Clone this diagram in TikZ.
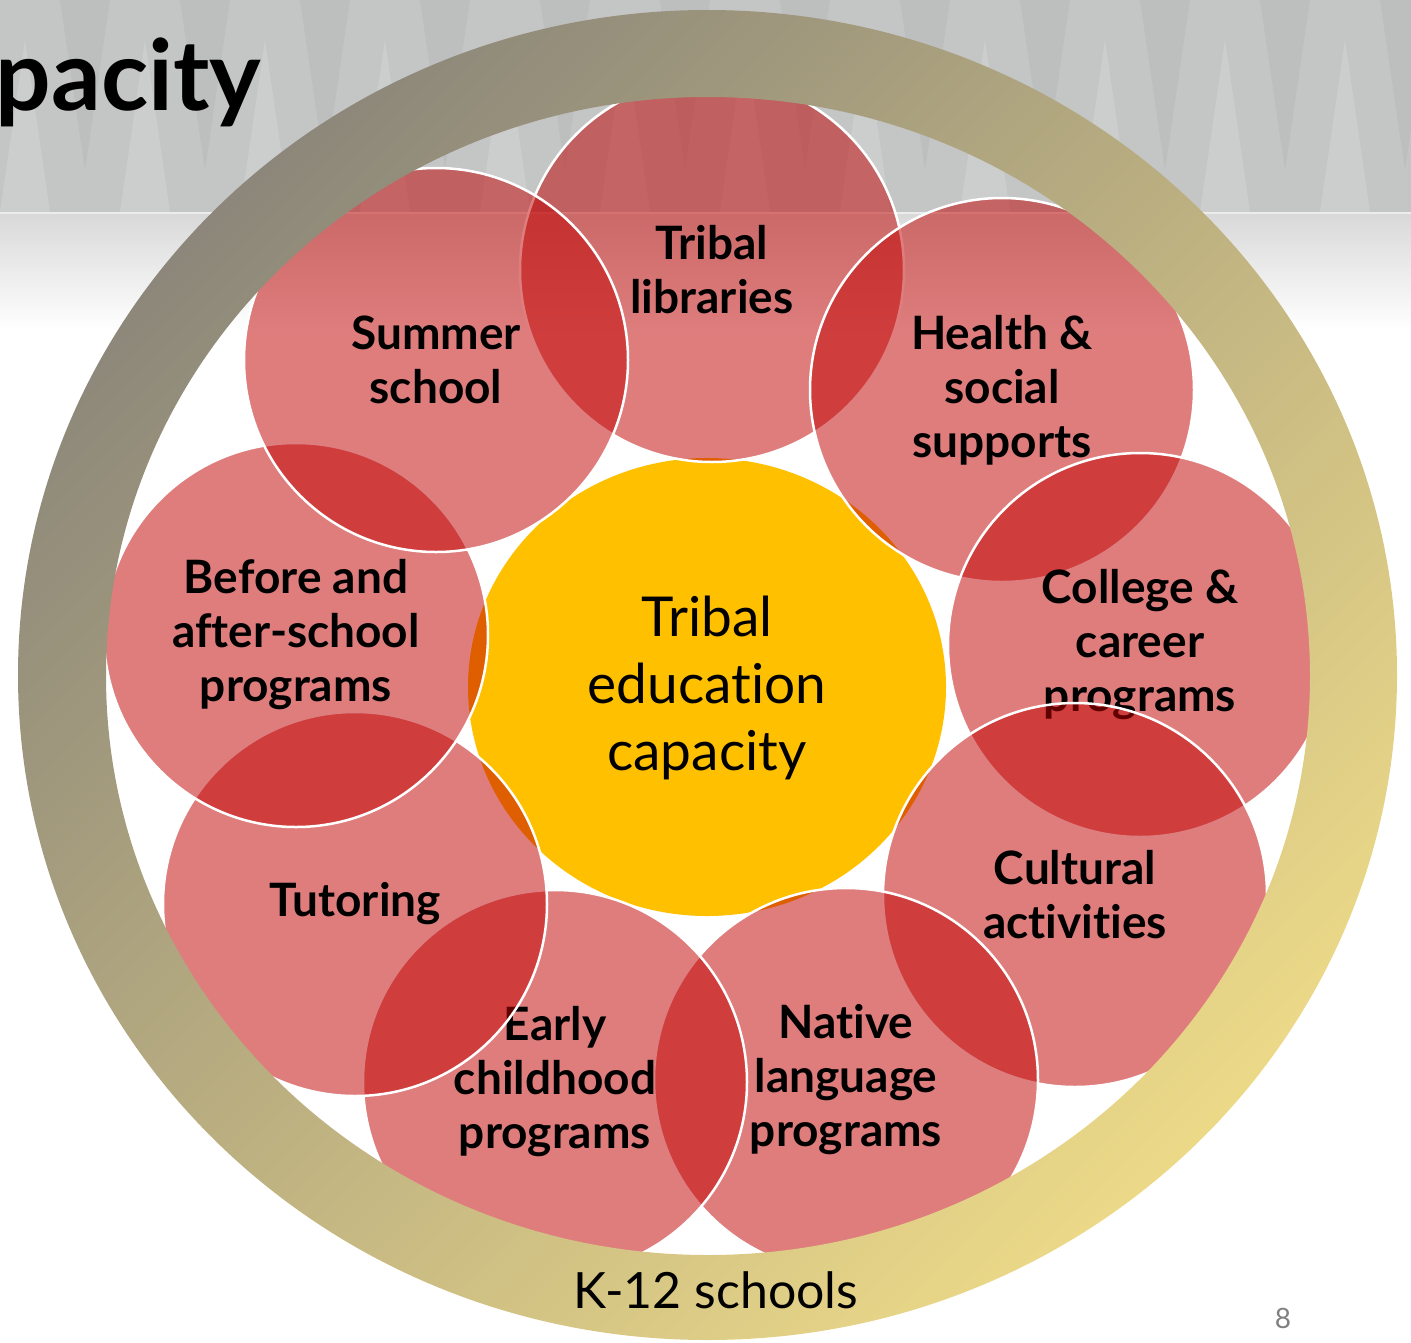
\documentclass[tikz,border=0pt]{standalone}
\usepackage{fontspec}
\setmainfont{Lato}[Ligatures=NoCommon]
\definecolor{petalred}{RGB}{192,0,0}
\definecolor{hubyellow}{RGB}{255,192,0}
\definecolor{ringgrey}{RGB}{140,135,122}
\definecolor{ringgold}{RGB}{236,217,136}
\definecolor{hdrgrey}{RGB}{196,197,197}
\tikzset{
  petal/.style={circle, minimum size=384pt, inner sep=0pt, fill=petalred, fill opacity=0.51,
    text opacity=1, draw=white, line width=2.5pt, align=center,
    font=\fontsize{46}{54}\selectfont\bfseries},
  hubtext/.style={align=center, font=\fontsize{55}{67}\selectfont},
}
\begin{document}
\begin{tikzpicture}[x=1pt, y=-1pt, line join=round, line cap=round]
\useasboundingbox (0,0) rectangle (1411,1342);
% header band
\fill[hdrgrey] (0,0) rectangle (1411,212);
\foreach \x in {0,120,...,1440} {
  \fill[white, opacity=0.15] (\x,212) -- (\x+25,40) -- (\x+50,212) -- cycle;
  \fill[black, opacity=0.035] (\x+60,0) -- (\x+85,170) -- (\x+110,0) -- cycle;
}
\shade[top color=gray!30, bottom color=white] (0,214) rectangle (1411,330);
\draw[white!85!gray, line width=2pt] (0,213) -- (1411,213);
\node (title) at (265,110) [anchor=base east, font=\fontsize{98}{100}\selectfont\bfseries] {pacity};
% hub
\fill[hubyellow] (707,687) ellipse [x radius=239, y radius=229];
\node (hub) at (707,688) [hubtext] {Tribal\\education\\capacity};
% petals, clockwise from the top
\foreach \name/\cx/\cy/\txt in {
  lib/712/270/{Tribal\\libraries},
  health/1002/390/{Health \&\\social\\supports},
  college/1140/645/{College \&\\career\\programs},
  culture/1075/895/{Cultural\\activities},
  native/846/1080/{Native\\language\\programs},
  early/555/1082/{Early\\childhood\\programs},
  tutor/355/904/{Tutoring},
  before/296/635/{Before and\\after-school\\programs},
  summer/436/360/{Summer\\school}}
  \node[petal] (\name) at (\cx,\cy) {\txt};
% ring
\shade[even odd rule, top color=ringgrey, bottom color=ringgold, shading angle=45]
  (707.5,675) ellipse [x radius=689.5, y radius=665]
  (708,676) ellipse [x radius=602, y radius=579];
\node (ring) at (716,1290) [font=\fontsize{50}{60}\selectfont] {K-12 schools};
\node (page) at (1283,1318) [text=gray, font=\fontsize{28}{30}\selectfont] {8};
\end{tikzpicture}
\end{document}
